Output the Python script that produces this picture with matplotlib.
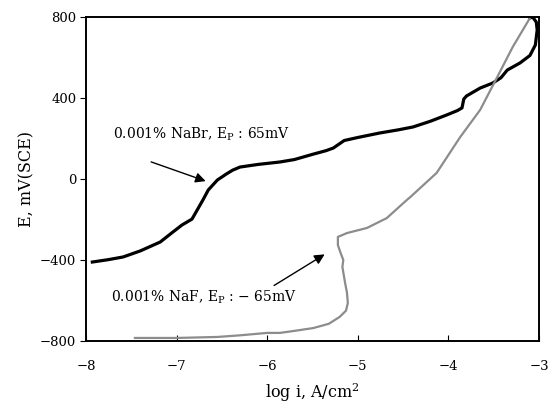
import matplotlib.pyplot as plt

plt.rcParams['font.family'] = ['DejaVu Serif']
plt.rcParams['mathtext.fontset'] = 'dejavuserif'

# NaBr curve (black)
nabr_x = [-7.93, -7.75, -7.59, -7.40, -7.18, -7.05, -6.94, -6.83, -6.71, -6.65,
          -6.55, -6.45, -6.38, -6.30, -6.10, -5.86, -5.70, -5.49, -5.35, -5.27,
          -5.15, -5.00, -4.76, -4.55, -4.39, -4.20, -4.02, -3.90, -3.85, -3.83,
          -3.80, -3.65, -3.51, -3.42, -3.35, -3.21, -3.10, -3.04, -3.02, -3.03,
          -3.07, -3.10]
nabr_y = [-410, -398, -385, -355, -311, -265, -227, -198, -104, -54,
          -5, 25, 44, 59, 72, 84, 96, 123, 140, 153,
          190, 205, 227, 243, 257, 285, 316, 338, 351, 395,
          410, 449, 474, 500, 538, 573, 610, 662, 736, 775,
          800, 795]

# NaF curve (gray)
naf_x = [-7.46, -7.00, -6.55, -6.30, -6.00, -5.86, -5.70, -5.49, -5.32, -5.20,
         -5.13, -5.11, -5.12, -5.14, -5.17, -5.16, -5.19, -5.22, -5.22, -5.12,
         -4.90, -4.68, -4.46, -4.42, -4.13, -3.87, -3.65, -3.46, -3.29, -3.10]
naf_y = [-785, -785, -780, -772, -760, -760, -750, -736, -715, -681,
         -650, -612, -560, -514, -434, -400, -365, -326, -286, -267,
         -242, -193, -104, -89, 30, 207, 341, 504, 652, 795]

x_ticks = [-8, -7, -6, -5, -4, -3]
y_ticks = [-800, -400, 0, 400, 800]

fig = plt.figure(figsize=(5.6, 4.09), dpi=100)
ax = fig.add_axes([86/560, 1 - 341/409, (539-86)/560, (341-17)/409])

ax.plot(nabr_x, nabr_y, color='black', linewidth=2.3, solid_joinstyle='round')
ax.plot(naf_x, naf_y, color='#8c8c8c', linewidth=1.6)

ax.set_xlim(-8, -3)
ax.set_ylim(-800, 800)
ax.set_xticks(x_ticks)
ax.set_yticks(y_ticks)
ax.set_xticklabels(['\u2212' + str(abs(t)) for t in x_ticks])
ax.set_yticklabels([('\u2212' + str(abs(t))) if t < 0 else str(t) for t in y_ticks])
ax.tick_params(axis='x', direction='in', length=4, pad=14, labelsize=9.5)
ax.tick_params(axis='y', direction='out', length=4, pad=3, labelsize=9.5)
for s in ax.spines.values():
    s.set_linewidth(1.4)

ax.set_xlabel('log i, A/cm$^2$', fontsize=11.5, labelpad=6)
ax.set_ylabel('E, mV(SCE)', fontsize=11.5, labelpad=3)

ax.annotate('0.001% NaBr, E$_\\mathrm{P}$ : 65mV', xy=(-6.65, -15), xytext=(-7.70, 222),
            fontsize=10, ha='left', va='center')
ax.annotate('', xy=(-6.65, -15), xytext=(-7.31, 89),
            arrowprops=dict(arrowstyle='-|>', color='black', lw=1, mutation_scale=15))
ax.annotate('0.001% NaF, E$_\\mathrm{P}$ : \u2212 65mV', xy=(-5.34, -365), xytext=(-7.72, -585),
            fontsize=10, ha='left', va='center')
ax.annotate('', xy=(-5.34, -365), xytext=(-5.95, -533),
            arrowprops=dict(arrowstyle='-|>', color='black', lw=1, mutation_scale=15))

fig.savefig('out.png', dpi=100)
